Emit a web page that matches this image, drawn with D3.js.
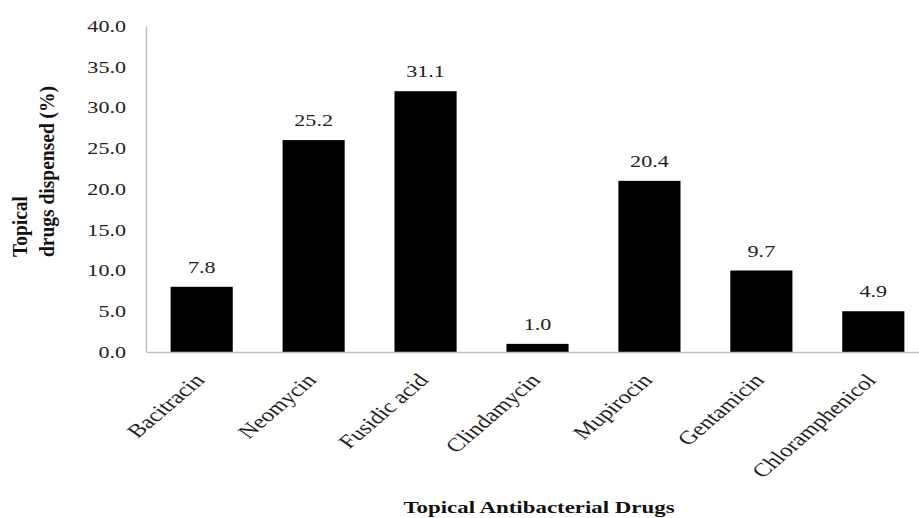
<!DOCTYPE html>
<meta charset="utf-8">
<script src="https://d3js.org/d3.v7.min.js"></script>
<style>
  body { margin: 0; background: #fff; }
  text { font-family: "Liberation Serif", "DejaVu Serif", serif; }
</style>
<div id="chart"></div>
<script>
// categories and values
var drugs = ["Bacitracin", "Neomycin", "Fusidic acid", "Clindamycin", "Mupirocin", "Gentamicin", "Chloramphenicol"];
// heights the bars are drawn at in the picture
var barValues = [8, 26, 32, 1, 21, 10, 5];
// printed data labels
var labelValues = [7.8, 25.2, 31.1, 1.0, 20.4, 9.7, 4.9];
var yTicks = [0, 5, 10, 15, 20, 25, 30, 35, 40];

var W = 919, H = 518;
var mLeft = 146, mRight = 929, mTop = 26, mBottom = 352;
var sx = 1.3; // the original picture is stretched sideways

var svg = d3.select("#chart").append("svg")
    .attr("width", W)
    .attr("height", H);

var x = d3.scaleBand()
    .domain(drugs)
    .range([mLeft, mRight])
    .paddingInner(0.445)
    .paddingOuter(0.22);

var y = d3.scaleLinear()
    .domain([0, 40])
    .range([mBottom, mTop]);

// y axis line
var yAxis = svg.append("g")
    .attr("transform", "translate(" + mLeft + ",0)")
    .call(d3.axisLeft(y).tickValues(yTicks).tickSize(0).tickFormat(""));
yAxis.select(".domain").attr("stroke", "#bfbfbf").attr("stroke-width", 1.5);

// y tick labels
svg.selectAll("text.ytick")
  .data(yTicks)
  .enter().append("text")
    .attr("class", "ytick")
    .attr("transform", function(d) { return "translate(126," + y(d) + ") scale(" + sx + ",1)"; })
    .attr("dy", "0.35em")
    .attr("text-anchor", "end")
    .attr("font-size", 17)
    .attr("fill", "#222")
    .text(d3.format(".1f"));

// bars
svg.selectAll("rect.bar")
  .data(drugs)
  .enter().append("rect")
    .attr("class", "bar")
    .attr("x", function(d) { return x(d); })
    .attr("width", x.bandwidth())
    .attr("y", function(d, i) { return y(barValues[i]); })
    .attr("height", function(d, i) { return y(0) - y(barValues[i]); })
    .attr("fill", "#000");

// x axis line
var xAxis = svg.append("g")
    .attr("transform", "translate(0," + mBottom + ")")
    .call(d3.axisBottom(x).tickSize(0).tickSizeOuter(0).tickFormat(""));
xAxis.select(".domain").attr("stroke", "#bfbfbf").attr("stroke-width", 1.5);

// x category labels
svg.selectAll("text.xlab")
  .data(drugs)
  .enter().append("text")
    .attr("class", "xlab")
    .attr("transform", function(d) {
      return "translate(" + (x(d) + x.bandwidth() / 2 + 4) + "," + (mBottom + 29) + ") scale(" + sx + ",1) rotate(-48)";
    })
    .attr("text-anchor", "end")
    .attr("font-size", 19)
    .attr("fill", "#222")
    .text(function(d) { return d; });

// data labels
svg.selectAll("text.val")
  .data(drugs)
  .enter().append("text")
    .attr("class", "val")
    .attr("transform", function(d, i) {
      return "translate(" + (x(d) + x.bandwidth() / 2) + "," + (y(barValues[i]) - 14) + ") scale(" + sx + ",1)";
    })
    .attr("text-anchor", "middle")
    .attr("font-size", 17)
    .attr("fill", "#222")
    .text(function(d, i) { return labelValues[i].toFixed(1); });

// y axis title, two lines, start-aligned at the bottom
var yt = svg.append("text")
    .attr("transform", "translate(0,257) scale(1.12,1) rotate(-90)")
    .attr("text-anchor", "start")
    .attr("font-size", 19.5)
    .attr("font-weight", "bold")
    .attr("fill", "#111");
yt.append("tspan").attr("x", 0).attr("y", 24).text("Topical");
yt.append("tspan").attr("x", 0).attr("y", 48).text("drugs dispensed (%)");

// x axis title
svg.append("text")
    .attr("transform", "translate(539,513) scale(" + sx + ",1)")
    .attr("text-anchor", "middle")
    .attr("font-size", 17.6)
    .attr("font-weight", "bold")
    .attr("fill", "#111")
    .text("Topical Antibacterial Drugs");
</script>
